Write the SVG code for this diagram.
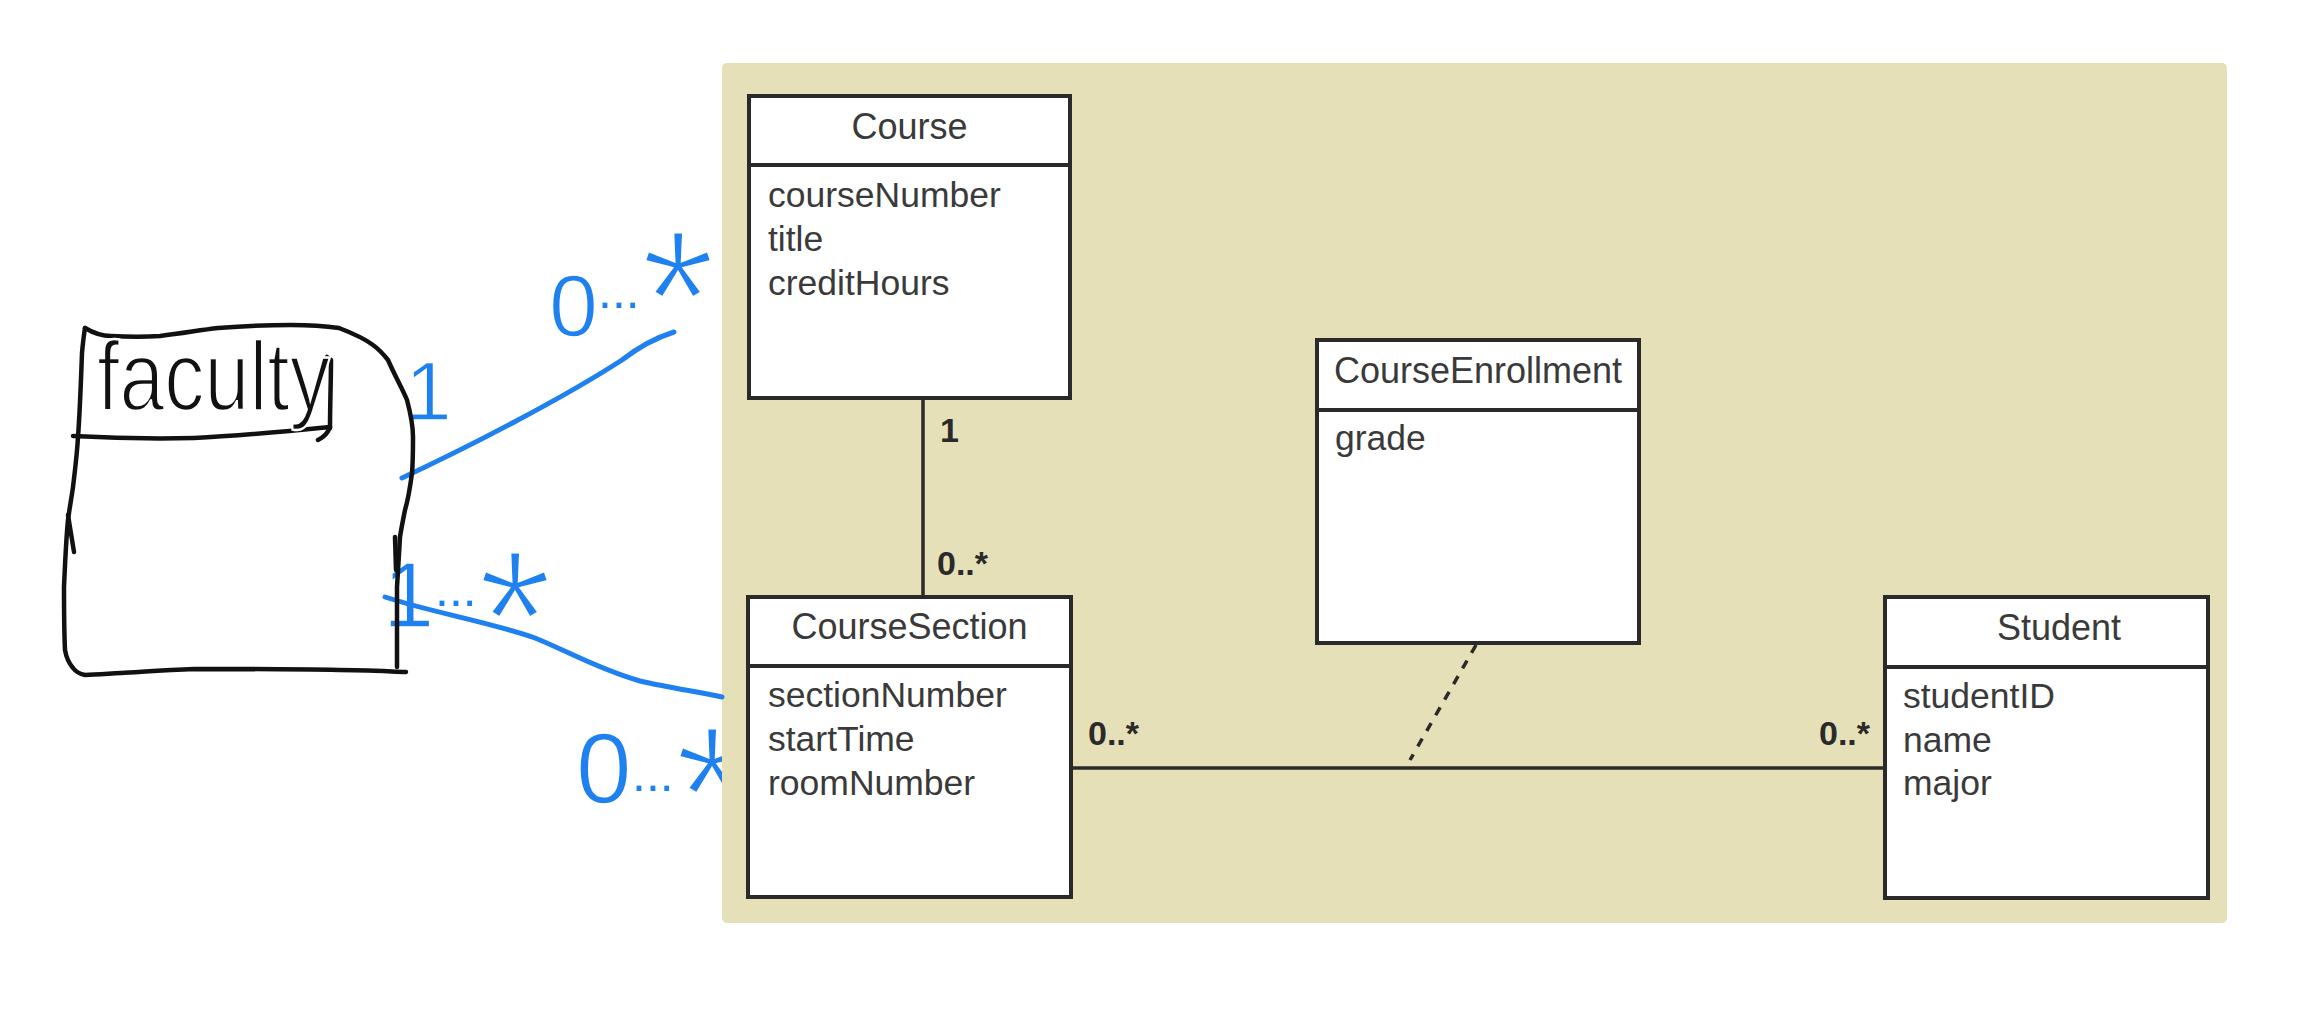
<svg xmlns="http://www.w3.org/2000/svg" width="2299" height="1015" viewBox="0 0 2299 1015">
<style>
.box{fill:#fff;stroke:#2a2a2a;stroke-width:4}
.div{stroke:#2a2a2a;stroke-width:4}
.hdr{font-family:"Liberation Sans",Arial,sans-serif;font-size:36px;fill:#3a3a3a;text-anchor:middle}
.att{font-family:"Liberation Sans",Arial,sans-serif;font-size:35.5px;fill:#3a3a3a}
.mult{font-family:"Liberation Sans",Arial,sans-serif;font-size:34px;font-weight:bold;fill:#2a2a2a}
.conn{stroke:#2a2a2a;stroke-width:3.5;fill:none}
.sketch{stroke:#111;stroke-width:4.5;fill:none;stroke-linecap:round;stroke-linejoin:round}
.blue{stroke:#1f80ef;stroke-width:5;fill:none;stroke-linecap:round;stroke-linejoin:round}
.bt{font-family:"Liberation Sans",Arial,sans-serif;fill:#1f80ef;stroke:#fff}
.dig{stroke-width:1.5}
.dots{stroke-width:0}
.ast{stroke-width:5}
</style>
<defs>
  <clipPath id="leftOfPanel"><rect x="0" y="0" width="722" height="1015"/></clipPath>
</defs>
<rect width="2299" height="1015" fill="#fff"/>
<rect x="722" y="63" width="1505" height="860" rx="5" fill="#e6e0b9"/>

<g id="connectors">
  <line class="conn" x1="923" y1="398" x2="923" y2="597"/>
  <line class="conn" x1="1071" y1="768" x2="1885" y2="768"/>
  <line class="conn" x1="1476" y1="645" x2="1410" y2="760" stroke-width="3" stroke-dasharray="9 9"/>
  <text class="mult" x="940" y="442">1</text>
  <text class="mult" x="937" y="575">0..*</text>
  <text class="mult" x="1088" y="745">0..*</text>
  <text class="mult" x="1819" y="745">0..*</text>
  <text class="bt dig" font-size="84" x="405" y="420">1</text>
  <text class="bt"><tspan class="dig" font-size="88" x="549" y="336">0</tspan><tspan class="dots" font-size="50" x="598" y="308">...</tspan><tspan class="ast" font-size="195" x="640" y="365">*</tspan></text>
  <text class="bt"><tspan class="dig" font-size="92" x="383" y="627">1</tspan><tspan class="dots" font-size="50" x="435" y="606">...</tspan><tspan class="ast" font-size="195" x="477" y="685">*</tspan></text>
  <text class="bt" clip-path="url(#leftOfPanel)"><tspan class="dig" font-size="100" x="576" y="803">0</tspan><tspan class="dots" font-size="50" x="632" y="791">...</tspan><tspan class="ast" font-size="195" x="674" y="861">*</tspan></text>
  <path class="blue" d="M402,478 C470,446 560,400 622,360 C640,346 655,338 674,332"/>
  <path class="blue" d="M385,597 C430,612 490,622 535,638 C565,650 600,670 640,681 C670,688 700,692 722,697"/>
</g>

<g id="faculty">
  <path class="sketch" d="M85,328 C95,334 104,336 111,336 C130,337 145,337 160,336 C185,333 200,330 218,328 C245,326 270,325 291,325 C310,325 325,326 339,328 C352,333 365,339 373,345 C380,350 384,355 388,360 C396,378 403,390 407,400 C411,415 413,425 413,437 C413,450 413,462 412,473 C410,488 408,500 405,510 C403,520 401,530 400,537 C399,555 398,570 397,587 C397,615 397,640 397,667"/>
  <path class="sketch" d="M406,672 C380,671 360,670 339,670 C290,669 240,669 194,669 C165,670 140,672 121,673 C105,674 95,675 85,675 C80,674 76,672 73,668 C68,662 66,656 65,650 C64,630 64,608 64,587 C65,565 66,540 68,520 C70,505 72,495 73,487 C75,470 77,455 78,437 C80,410 81,380 82,353 C83,342 84,334 85,328"/>
  <path class="sketch" d="M68,515 L74,552"/>
  <path class="sketch" d="M395,537 L396,570"/>
  <path class="sketch" d="M327,357 L331,360 C331,380 330,405 330,428"/>
  <path class="sketch" d="M73,436 C110,438 150,439 194,438 C240,436 290,431 330,427 C328,433 324,437 318,440"/>
  <text x="97" y="410" font-family="Liberation Sans, Arial, sans-serif" font-size="98" fill="#111" stroke="#fff" stroke-width="2.5" textLength="233" lengthAdjust="spacingAndGlyphs">faculty</text>
</g>

<g id="course">
  <rect class="box" x="749" y="96" width="321" height="302"/>
  <line class="div" x1="749" y1="165" x2="1070" y2="165"/>
  <text class="hdr" x="909.5" y="139">Course</text>
  <text class="att" x="768" y="207">courseNumber</text>
  <text class="att" x="768" y="251">title</text>
  <text class="att" x="768" y="295">creditHours</text>
</g>

<g id="coursesection">
  <rect class="box" x="748" y="597" width="323" height="300"/>
  <line class="div" x1="748" y1="666" x2="1071" y2="666"/>
  <text class="hdr" x="909.5" y="639">CourseSection</text>
  <text class="att" x="768" y="707">sectionNumber</text>
  <text class="att" x="768" y="751">startTime</text>
  <text class="att" x="768" y="795">roomNumber</text>
</g>

<g id="courseenrollment">
  <rect class="box" x="1317" y="340" width="322" height="303"/>
  <line class="div" x1="1317" y1="410" x2="1639" y2="410"/>
  <text class="hdr" x="1478" y="383">CourseEnrollment</text>
  <text class="att" x="1335" y="450">grade</text>
</g>

<g id="student">
  <rect class="box" x="1885" y="597" width="323" height="301"/>
  <line class="div" x1="1885" y1="667" x2="2208" y2="667"/>
  <text class="hdr" x="2059" y="640">Student</text>
  <text class="att" x="1903" y="708">studentID</text>
  <text class="att" x="1903" y="752">name</text>
  <text class="att" x="1903" y="795">major</text>
</g>
</svg>
